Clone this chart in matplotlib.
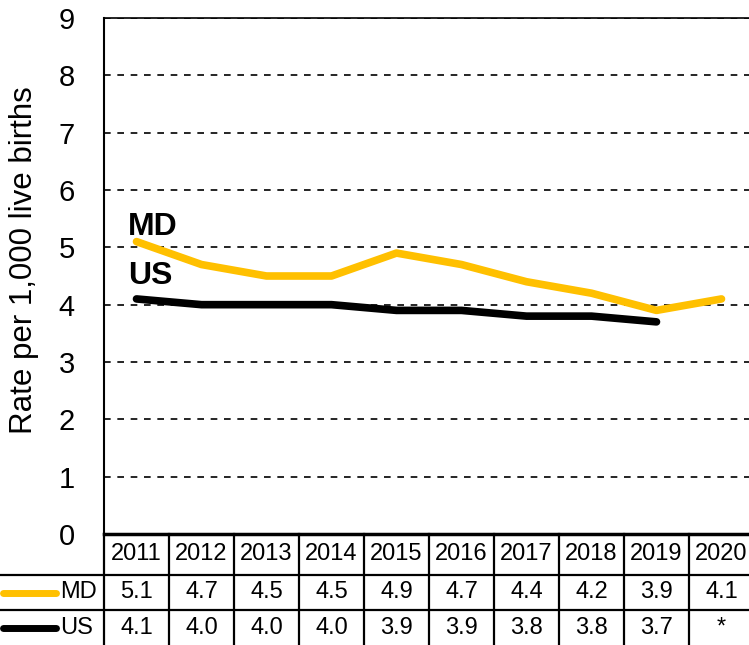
import numpy as np
import matplotlib.pyplot as plt
import matplotlib.transforms as mtransforms

plt.rcParams['font.family'] = ['Liberation Sans', 'DejaVu Sans']

years = [2011, 2012, 2013, 2014, 2015, 2016, 2017, 2018, 2019, 2020]
md_rate = [5.1, 4.7, 4.5, 4.5, 4.9, 4.7, 4.4, 4.2, 3.9, 4.1]
us_rate = [4.1, 4.0, 4.0, 4.0, 3.9, 3.9, 3.8, 3.8, 3.7, np.nan]
md_text = ['5.1', '4.7', '4.5', '4.5', '4.9', '4.7', '4.4', '4.2', '3.9', '4.1']
us_text = ['4.1', '4.0', '4.0', '4.0', '3.9', '3.9', '3.8', '3.8', '3.7', '*']

gold = '#FFC000'

fig = plt.figure(figsize=(7.49, 6.45), dpi=100)
# axes runs off the right edge like in the original
ax = fig.add_axes([104 / 749, 1 - 534 / 645, 650 / 749, 516 / 645])

ax.plot(years, md_rate, color=gold, lw=5.5, solid_capstyle='round', zorder=3)
ax.plot(years, us_rate, color='black', lw=5.5, solid_capstyle='round', zorder=3)

ax.text(2010.87, 5.36, 'MD', fontsize=23, fontweight='bold', va='center', ha='left')
ax.text(2010.87, 4.5, 'US', fontsize=23, fontweight='bold', va='center', ha='left')

ax.set_xlim(2010.5, 2020.5)
ax.set_ylim(0, 9)
ax.set_yticks(range(0, 10))
ax.set_yticklabels([str(i) for i in range(0, 10)], fontsize=21)
ax.tick_params(axis='y', length=0, pad=21)
ax.set_xticks([])
for y in range(1, 10):
    ax.axhline(y, color='black', lw=1.2, ls=(0, (4, 4)), zorder=1)

ax.spines['right'].set_visible(False)
ax.spines['top'].set_linewidth(1.2)
ax.spines['left'].set_linewidth(1.5)
ax.spines['bottom'].set_linewidth(2.5)

fig.text(24 / 749, 1 - 260 / 645, 'Rate per 1,000 live births', fontsize=22.5,
         rotation=90, ha='center', va='center')

# data table under the chart
tr = mtransforms.blended_transform_factory(ax.transData, ax.transAxes)
r1, r2, r3 = -41 / 516, -76 / 516, -111 / 516
x_left = 2010.5 - 104 / 65
for yy in [r1, r2]:
    ax.plot([x_left, 2020.5], [yy, yy], color='black', lw=1.6, transform=tr, clip_on=False)
ax.plot([2010.5, 2010.5], [0, r3], color='black', lw=1.6, transform=tr, clip_on=False)
for i in range(1, 10):
    xb = years[0] - 0.5 + i
    ax.plot([xb, xb], [0, r3], color='black', lw=1.6, transform=tr, clip_on=False)

for i, yr in enumerate(years):
    ax.text(yr, (0 + r1) / 2, str(yr), fontsize=17, ha='center', va='center', transform=tr)
    ax.text(yr, (r1 + r2) / 2, md_text[i], fontsize=17, ha='center', va='center', transform=tr)
    ax.text(yr, (r2 + r3) / 2, us_text[i], fontsize=17, ha='center', va='center', transform=tr)

# legend keys in the table
key_x = [x_left + 0.05, x_left + 0.86]
ax.plot(key_x, [(r1 + r2) / 2] * 2, color=gold, lw=5, solid_capstyle='round', transform=tr, clip_on=False)
ax.plot(key_x, [(r2 + r3) / 2] * 2, color='black', lw=5, solid_capstyle='round', transform=tr, clip_on=False)
ax.text(x_left + 0.93, (r1 + r2) / 2, 'MD', fontsize=17, ha='left', va='center', transform=tr)
ax.text(x_left + 0.93, (r2 + r3) / 2, 'US', fontsize=17, ha='left', va='center', transform=tr)

fig.savefig('out.png', dpi=100)
